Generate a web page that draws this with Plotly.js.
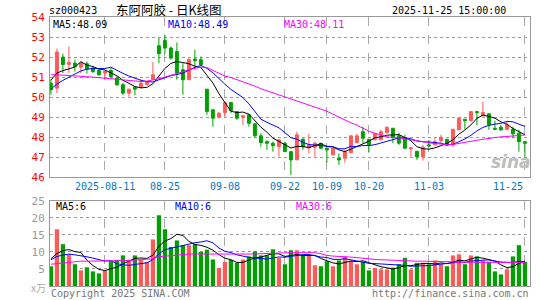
<!DOCTYPE html>
<html><head><meta charset="utf-8">
<script src="https://cdn.plot.ly/plotly-3.0.1.min.js"></script>
<style>body{margin:0;background:#fff}#chart{width:545px;height:300px}</style>
</head><body><div id="chart"></div>
<script>
const dates = [
"2025-07-29","2025-07-30","2025-07-31","2025-08-01","2025-08-04","2025-08-05","2025-08-06","2025-08-07","2025-08-08",
"2025-08-11","2025-08-12","2025-08-13","2025-08-14","2025-08-15","2025-08-18","2025-08-19","2025-08-20","2025-08-21","2025-08-22",
"2025-08-25","2025-08-26","2025-08-27","2025-08-28","2025-08-29","2025-09-01","2025-09-02","2025-09-03","2025-09-04","2025-09-05",
"2025-09-08","2025-09-09","2025-09-10","2025-09-11","2025-09-12","2025-09-15","2025-09-16","2025-09-17","2025-09-18","2025-09-19",
"2025-09-22","2025-09-23","2025-09-24","2025-09-25","2025-09-26","2025-09-29","2025-09-30",
"2025-10-09","2025-10-10","2025-10-13","2025-10-14","2025-10-15","2025-10-16","2025-10-17",
"2025-10-20","2025-10-21","2025-10-22","2025-10-23","2025-10-24","2025-10-27","2025-10-28","2025-10-29","2025-10-30","2025-10-31",
"2025-11-03","2025-11-04","2025-11-05","2025-11-06","2025-11-07","2025-11-10","2025-11-11","2025-11-12","2025-11-13","2025-11-14",
"2025-11-17","2025-11-18","2025-11-19","2025-11-20","2025-11-21","2025-11-24","2025-11-25"];

const open = [50.7,50.45,52.0,51.63,51.7,51.5,51.67,51.45,51.33,51.2,
51.33,50.95,50.62,50.2,50.5,50.5,50.62,50.9,52.57,52.83,
52.45,52.28,51.37,50.87,51.9,51.87,50.4,49.37,49.0,49.23,
49.73,49.28,49.0,49.12,48.67,48.07,47.78,47.7,47.53,47.7,
47.28,46.87,47.9,47.47,47.5,47.7,47.45,47.12,46.95,46.95,
47.23,47.73,48.28,47.9,47.87,47.87,48.23,48.45,48.07,47.95,
47.43,47.3,47.03,47.62,47.62,47.83,47.9,47.62,48.37,48.9,
48.83,49.28,49.07,49.17,48.45,48.5,48.4,48.4,48.2,47.78];
const high = [50.87,52.42,52.17,52.53,51.87,51.78,51.78,51.55,51.4,51.35,
51.45,51.03,50.7,50.4,50.53,50.9,50.8,51.75,52.95,53.12,
52.53,52.73,51.7,51.95,52.37,52.03,50.4,49.37,49.28,49.78,
49.73,49.28,49.07,49.12,48.67,48.2,47.85,47.78,47.87,47.78,
47.28,48.28,47.95,48.17,47.78,47.7,47.45,47.45,47.2,47.37,
48.07,48.17,48.53,47.9,48.2,48.37,48.53,48.45,48.23,48.12,
47.5,47.3,47.62,47.87,47.95,48.12,47.9,48.4,48.95,48.9,
49.28,49.32,49.78,49.2,48.83,48.62,48.78,48.53,48.37,47.78];
const low = [50.12,50.2,51.2,51.2,51.28,51.2,51.17,51.2,51.07,50.87,
50.95,50.57,50.12,50.03,50.1,50.45,50.6,50.87,51.7,52.17,
51.87,50.87,50.12,50.87,51.53,51.55,49.12,48.53,48.95,49.0,
49.2,48.87,48.62,48.53,48.0,47.53,47.37,47.28,47.03,47.28,
46.12,46.87,47.37,47.2,47.03,47.4,46.73,47.12,46.62,46.73,
47.23,47.7,47.7,47.23,47.87,47.87,48.2,47.7,47.62,47.45,
47.03,46.87,46.83,47.53,47.6,47.72,47.55,47.5,48.37,48.4,
48.78,48.6,49.07,48.37,48.35,48.3,48.35,47.95,47.28,47.0];
const close = [50.37,52.25,51.63,51.73,51.53,51.7,51.4,51.28,51.12,51.28,
51.03,50.62,50.2,50.4,50.4,50.7,50.73,51.12,52.17,52.45,
51.95,51.2,50.87,51.87,51.82,51.62,49.28,48.95,49.2,49.73,
49.33,48.95,49.07,48.7,48.07,47.73,47.7,47.58,47.87,47.28,
46.87,48.12,47.53,47.62,47.7,47.45,47.37,47.45,46.87,47.28,
48.07,48.07,47.95,47.62,48.17,48.28,48.5,48.0,47.7,47.45,
47.47,47.03,47.5,47.57,47.78,48.0,47.62,48.4,48.95,48.83,
49.28,49.23,49.23,48.62,48.4,48.37,48.62,48.17,47.78,47.7];
// closes of the 9 sessions before the window (for MA5 / MA10)
const priorClose = [49.7,49.8,50.0,50.1,50.15,50.5,51.0,51.2,51.18];
const ma30Price = [51.12,51.12,51.1,51.08,51.05,51.03,51.02,51.0,50.97,50.95,
50.92,50.88,50.85,50.82,50.8,50.78,50.8,50.85,50.92,51.0,
51.08,51.17,51.27,51.37,51.45,51.5,51.48,51.35,51.2,51.05,
50.98,50.88,50.78,50.68,50.55,50.42,50.32,50.22,50.12,50.03,
49.93,49.83,49.72,49.62,49.5,49.4,49.3,49.15,49.0,48.85,
48.72,48.6,48.45,48.3,48.2,48.1,48.02,47.98,47.97,47.92,
47.88,47.83,47.78,47.72,47.68,47.65,47.63,47.64,47.7,47.75,
47.8,47.85,47.9,47.95,47.98,48.02,48.04,48.06,48.08,48.11];

const volume = [5.8,16.7,12.3,9.3,6.4,4.6,5.5,4.3,3.7,4.6,
7.3,7.7,9.0,7.7,9.0,7.8,7.1,13.7,20.8,16.7,
11.5,13.4,12.0,12.0,12.3,10.0,10.7,7.8,5.3,7.1,
7.7,6.8,7.8,8.7,10.2,9.0,9.0,10.8,8.2,6.4,
10.5,10.5,9.0,9.0,6.1,5.8,7.3,5.8,7.5,8.7,
7.4,6.4,7.1,4.6,5.3,4.9,4.9,5.4,6.4,8.3,
4.9,6.8,6.8,6.4,7.5,6.4,5.8,9.0,9.3,6.4,
9.0,8.7,7.5,7.1,4.3,3.4,4.9,8.7,12.0,7.1];
const priorVolume = [7.0,8.0,6.5,8.5,7.0,9.0,8.0,7.7,9.5];
const ma30Volume = [6.4,6.6,6.8,7.0,7.2,7.3,7.3,7.3,7.3,7.4,
7.4,7.4,7.5,7.5,7.6,7.7,7.8,8.0,8.6,8.8,
8.9,9.1,9.3,9.4,9.4,9.4,9.4,9.3,9.3,9.2,
9.2,9.2,9.2,9.3,9.4,9.5,9.6,9.7,9.8,9.8,
9.8,9.8,9.8,9.8,9.8,9.5,9.0,8.8,8.6,8.6,
8.5,8.4,8.2,8.0,7.8,7.7,7.6,7.5,7.4,7.4,
7.4,7.3,7.3,7.3,7.2,7.1,7.1,7.1,7.0,7.0,
7.0,7.0,7.0,6.9,6.9,6.9,6.9,6.9,6.9,6.9];

const tickDates = ["2025-08-11","2025-08-25","2025-09-08","2025-09-22","2025-10-09","2025-10-20","2025-11-03","2025-11-25"];
const tickLabels = ["2025-08-11","08-25","09-08","09-22","10-09","10-20","11-03","11-25"];
const priceTicks = [46,47,48,49,50,51,52,53,54];
const volTicks = [5,10,15,20,25];

const RED = '#ff5a5a', GREEN = '#00a000';
const MONO = 'DejaVu Sans Mono, monospace';

function sma(prior, arr, n) {
  const all = prior.concat(arr), out = [];
  for (let i = prior.length; i < all.length; i++) {
    let s = 0; for (let k = i - n + 1; k <= i; k++) s += all[k];
    out.push(s / n);
  }
  return out;
}
const ma5 = sma(priorClose, close, 5), ma10 = sma(priorClose, close, 10);
const vma5 = sma(priorVolume, volume, 5), vma10 = sma(priorVolume, volume, 10);
const volColors = close.map((c, i) => c >= open[i] ? RED : GREEN);

const traces = [
  {type:'candlestick', x:dates, open:open, high:high, low:low, close:close, xaxis:'x', yaxis:'y',
   increasing:{line:{color:RED,width:1}, fillcolor:RED},
   decreasing:{line:{color:GREEN,width:1}, fillcolor:GREEN},
   whiskerwidth:0, hoverinfo:'skip', showlegend:false},
  {type:'scatter', mode:'lines', x:dates, y:ma5, line:{color:'#000000',width:1}, xaxis:'x', yaxis:'y', hoverinfo:'skip', showlegend:false},
  {type:'scatter', mode:'lines', x:dates, y:ma10, line:{color:'#0000ff',width:1}, xaxis:'x', yaxis:'y', hoverinfo:'skip', showlegend:false},
  {type:'scatter', mode:'lines', x:dates, y:ma30Price, line:{color:'#ff00ff',width:1}, xaxis:'x', yaxis:'y', hoverinfo:'skip', showlegend:false},
  {type:'bar', x:dates, y:volume, marker:{color:volColors, line:{width:0}}, width:0.7, xaxis:'x2', yaxis:'y2', hoverinfo:'skip', showlegend:false},
  {type:'scatter', mode:'lines', x:dates, y:vma5, line:{color:'#000000',width:1}, xaxis:'x2', yaxis:'y2', hoverinfo:'skip', showlegend:false},
  {type:'scatter', mode:'lines', x:dates, y:vma10, line:{color:'#0000ff',width:1}, xaxis:'x2', yaxis:'y2', hoverinfo:'skip', showlegend:false},
  {type:'scatter', mode:'lines', x:dates, y:ma30Volume, line:{color:'#ff00ff',width:1}, xaxis:'x2', yaxis:'y2', hoverinfo:'skip', showlegend:false}
];

const xCommon = {type:'category', range:[-0.15, 79.85], tickmode:'array', tickvals:tickDates,
  showticklabels:false, ticks:'', showgrid:true, gridcolor:'#aaaaaa', griddash:'dash', gridwidth:1,
  showline:true, linecolor:'#999999', linewidth:1, mirror:true, zeroline:false, fixedrange:true};

const ann = [];
function txt(text, x, y, color, size, xanchor, extra) {
  ann.push(Object.assign({text:text, xref:'paper', yref:'paper', x:x, y:y, xanchor:xanchor||'left', yanchor:'middle',
    showarrow:false, font:{family:MONO, size:size||10, color:color||'#000'}}, extra||{}));
}
// px helpers: plot area x 50..530, y 17..286
const px = v => (v - 50) / 480, py = v => (286 - v) / 269;
txt('sz000423', px(47), py(10.5), '#000', 10);
txt('东阿阿胶 - 日K线图', px(114), py(9.5), '#000', 12, 'left', {font:{family:'Noto Sans CJK SC, sans-serif', size:12.5, color:'#000'}});
txt('2025-11-25 15:00:00', px(508), py(10.5), '#000', 10, 'right');
txt('MA5:48.09', px(51), py(24.5), '#000', 10);
txt('MA10:48.49', px(166), py(24.5), '#0000ff', 10);
txt('MA30:48.11', px(282), py(24.5), '#ff00ff', 10);
txt('MA5:6', px(54), py(206.5), '#000', 10);
txt('MA10:6', px(173), py(206.5), '#0000ff', 10);
txt('MA30:6', px(294), py(206.5), '#ff00ff', 10);
txt('x万', px(29), py(287), '#aaaaaa', 10, 'left', {font:{family:'Noto Sans CJK SC, sans-serif', size:10, color:'#aaaaaa'}});
txt('Copyright 2025 SINA.COM', px(49), py(293.5), '#777', 10);
txt('http://finance.sina.com.cn', px(531), py(293.5), '#777', 10, 'right');
txt('<i><b>sina</b></i>', px(511), py(162), '#bdbdbd', 17, 'center', {font:{family:'DejaVu Sans, sans-serif', size:17, color:'#bdbdbd'}});
tickDates.forEach((d, i) => {
  const last = i === tickDates.length - 1;
  ann.push({text:tickLabels[i], xref:'x', yref:'y', x:d, y:46, yanchor:'top', yshift:-2,
    xanchor:last ? 'right' : 'center', xshift:0,
    showarrow:false, font:{family:MONO, size:10, color:'#0078c8'}});
});

const layout = {
  width:545, height:300, margin:{l:50, r:15, t:17, b:14},
  paper_bgcolor:'#ffffff', plot_bgcolor:'#ffffff', showlegend:false,
  xaxis: Object.assign({}, xCommon, {anchor:'y', rangeslider:{visible:false}}),
  xaxis2: Object.assign({}, xCommon, {anchor:'y2', matches:'x'}),
  yaxis: {domain:[0.404, 1], range:[46, 54], tickmode:'array', tickvals:priceTicks, ticks:'',
    tickfont:{family:MONO, size:11, color:'#ff0000'}, showgrid:true, gridcolor:'#999999', griddash:'dot', gridwidth:1,
    showline:true, linecolor:'#999999', linewidth:1, mirror:true, zeroline:false, fixedrange:true, ticklabelstandoff:2},
  yaxis2: {domain:[0, 0.316], range:[0, 25], tickmode:'array', tickvals:volTicks, ticks:'',
    tickfont:{family:MONO, size:11, color:'#999999'}, showgrid:true, gridcolor:'#999999', griddash:'dot', gridwidth:1,
    showline:true, linecolor:'#999999', linewidth:1, mirror:true, zeroline:false, fixedrange:true, ticklabelstandoff:2},
  annotations: ann, bargap:0.3
};
Plotly.newPlot('chart', traces, layout, {staticPlot:true, displayModeBar:false});
</script></body></html>
